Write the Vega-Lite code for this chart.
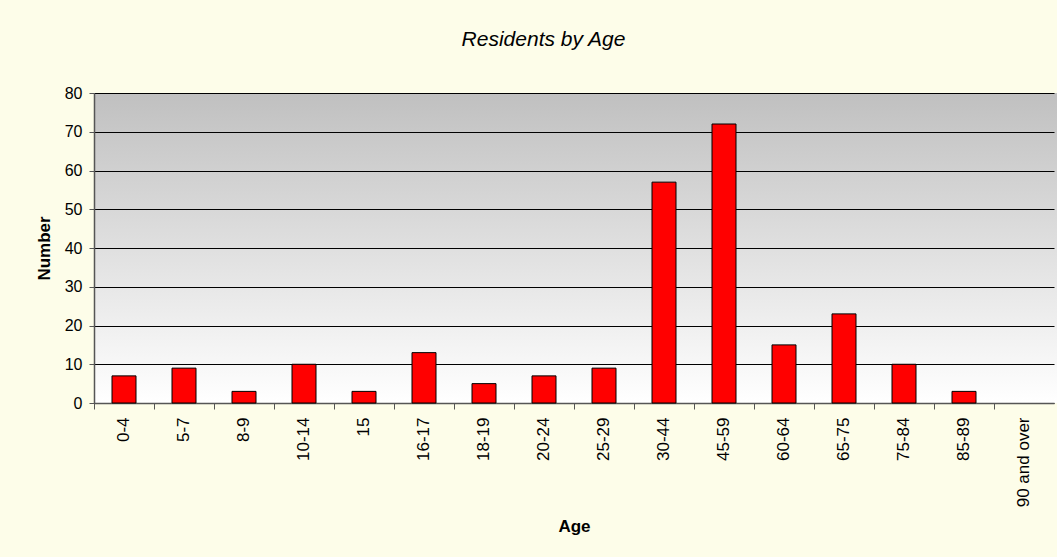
{
  "$schema": "https://vega.github.io/schema/vega-lite/v6.json",
  "autosize": {"type": "none"},
  "padding": {"left": 94, "top": 93, "right": 0, "bottom": 154},
  "width": 963,
  "height": 310,
  "background": "#fdfde9",
  "title": {
    "text": "Residents by Age",
    "font": "Liberation Sans",
    "fontSize": 21,
    "fontStyle": "italic",
    "fontWeight": "normal",
    "color": "#000000",
    "anchor": "middle",
    "frame": "group",
    "dx": -32,
    "offset": 35
  },
  "data": {
    "values": [
      {"age": "0-4", "number": 7},
      {"age": "5-7", "number": 9},
      {"age": "8-9", "number": 3},
      {"age": "10-14", "number": 10},
      {"age": "15", "number": 3},
      {"age": "16-17", "number": 13},
      {"age": "18-19", "number": 5},
      {"age": "20-24", "number": 7},
      {"age": "25-29", "number": 9},
      {"age": "30-44", "number": 57},
      {"age": "45-59", "number": 72},
      {"age": "60-64", "number": 15},
      {"age": "65-75", "number": 23},
      {"age": "75-84", "number": 10},
      {"age": "85-89", "number": 3},
      {"age": "90 and over", "number": 0}
    ]
  },
  "mark": {"type": "bar", "fill": "#ff0000", "stroke": "#000000", "strokeWidth": 1, "width": {"band": 0.4}},
  "encoding": {
    "x": {
      "field": "age",
      "type": "nominal",
      "sort": null,
      "scale": {"paddingInner": 0, "paddingOuter": 0, "range": [0, 960]},
      "axis": {
        "title": "Age",
        "labelAngle": -90,
        "labelAlign": "right",
        "labelBaseline": "middle",
        "labelPadding": 8,
        "labelFontSize": 17,
        "bandPosition": 0,
        "tickSize": 6,
        "titlePadding": 12
      }
    },
    "y": {
      "field": "number",
      "type": "quantitative",
      "scale": {"domain": [0, 80], "nice": false},
      "axis": {
        "title": "Number",
        "values": [0, 10, 20, 30, 40, 50, 60, 70, 80],
        "grid": true,
        "gridColor": "#000000",
        "gridOpacity": 1,
        "gridWidth": 1,
        "tickSize": 5,
        "labelPadding": 7,
        "titlePadding": 11
      }
    },
    "strokeOpacity": {"condition": {"test": "datum.number == 0", "value": 0}, "value": 1}
  },
  "config": {
    "view": {
      "stroke": null,
      "fill": {
        "gradient": "linear",
        "x1": 0, "y1": 0, "x2": 0, "y2": 1,
        "stops": [
          {"offset": 0, "color": "#c0c0c0"},
          {"offset": 1, "color": "#ffffff"}
        ]
      }
    },
    "axis": {
      "labelFont": "Liberation Sans",
      "labelFontSize": 16,
      "labelColor": "#000000",
      "titleFont": "Liberation Sans",
      "titleFontSize": 17,
      "titleFontWeight": "bold",
      "titleColor": "#000000",
      "domainColor": "#555555",
      "tickColor": "#555555",
      "domainWidth": 1.5
    }
  }
}
